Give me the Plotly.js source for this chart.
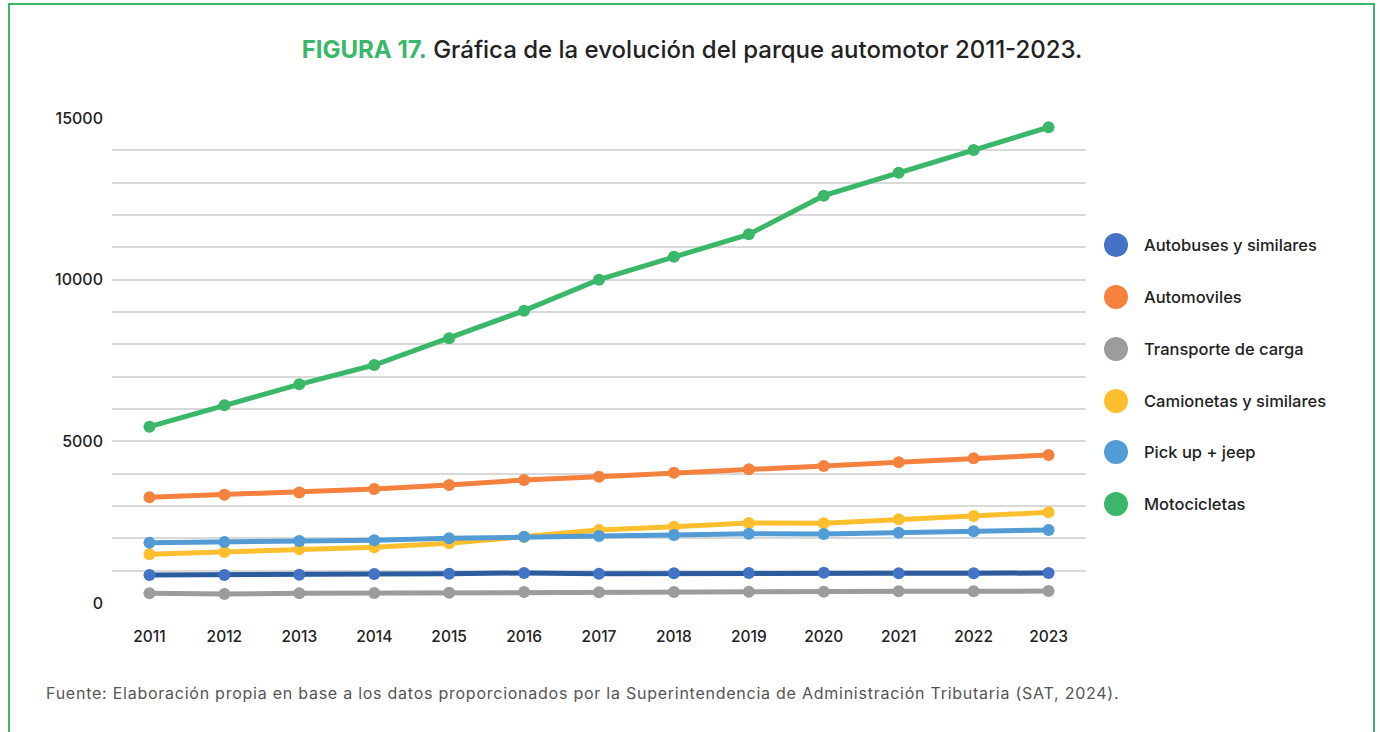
<!DOCTYPE html>
<html>
<head>
<meta charset="utf-8">
<script src="https://cdn.plot.ly/plotly-3.0.1.min.js"></script>
<style>
html,body{margin:0;padding:0;background:#fff;}
#chart{width:1380px;height:732px;}
#chart .annotation.foot text{letter-spacing:0.75px;}
</style>
</head>
<body>
<div id="chart"></div>
<script>
const years = ['2011','2012','2013','2014','2015','2016','2017','2018','2019','2020','2021','2022','2023'];
const seriesNames = ['Autobuses y similares','Automoviles','Transporte de carga','Camionetas y similares','Pick up + jeep','Motocicletas'];
const autobuses   = [866, 866, 876, 897, 907, 928, 907, 918, 928, 938, 918, 918, 928];
const automoviles = [3270, 3350, 3420, 3525, 3650, 3805, 3907, 4030, 4135, 4237, 4350, 4475, 4578];
const transporte  = [299, 278, 299, 309, 320, 340, 330, 340, 350, 350, 360, 360, 371];
const camionetas  = [1505, 1577, 1660, 1722, 1845, 2040, 2258, 2360, 2474, 2464, 2588, 2690, 2804];
const pickup      = [1866, 1887, 1918, 1938, 2000, 2052, 2072, 2103, 2144, 2134, 2175, 2216, 2258];
const motos       = [5453, 6115, 6764, 7361, 8187, 9041, 10000, 10712, 11403, 12598, 13310, 14012, 14714];
const yTickVals = [0, 5000, 10000, 15000];

const seriesValues = [autobuses, automoviles, transporte, camionetas, pickup, motos];
const markerColors = ['#4472C4', '#F4823E', '#9B9C9D', '#FDBF2D', '#529BD5', '#3BB76A'];
const lineColors   = ['#2C5C9E', '#F4823E', '#9B9C9D', '#FDBF2D', '#529BD5', '#3BB76A'];

const FONT = 'Inter, Lato, sans-serif';
const W = 1380, H = 732;
const L = 112, R = 1086, T = 118, B = 603;
const px2x = p => (p - L) / (R - L);
const py2y = p => (B - p) / (B - T);

const traces = seriesNames.map((name, i) => ({
  type: 'scatter',
  mode: 'lines+markers',
  name: name,
  x: years,
  y: seriesValues[i],
  line: {color: lineColors[i], width: 5},
  marker: {color: markerColors[i], size: 12},
  showlegend: false,
  cliponaxis: false
}));

const legendY = [245, 297, 349, 401, 452, 504];
const shapes = [];
const annotations = [];
seriesNames.forEach((name, i) => {
  shapes.push({
    type: 'circle', xref: 'paper', yref: 'paper',
    xsizemode: 'pixel', ysizemode: 'pixel',
    xanchor: px2x(1116), yanchor: py2y(legendY[i]),
    x0: -12, x1: 12, y0: -12, y1: 12,
    fillcolor: markerColors[i], line: {width: 0}
  });
  annotations.push({
    xref: 'paper', yref: 'paper', x: px2x(1142), y: py2y(legendY[i]),
    xanchor: 'left', yanchor: 'middle', align: 'left', showarrow: false,
    text: name, font: {family: FONT, size: 16.5, color: '#222', weight: 500}
  });
});
// border frame
shapes.push({
  type: 'rect', xref: 'paper', yref: 'paper', layer: 'below',
  x0: px2x(9), x1: px2x(1374), y0: py2y(745), y1: py2y(4),
  line: {color: '#3BB76A', width: 2}, fillcolor: 'rgba(0,0,0,0)'
});
annotations.push({
  xref: 'paper', yref: 'paper', x: px2x(44), y: py2y(693),
  xanchor: 'left', yanchor: 'middle', align: 'left', showarrow: false,
  text: 'Fuente: Elaboración propia en base a los datos proporcionados por la Superintendencia de Administración Tributaria (SAT, 2024).',
  font: {family: FONT, size: 16, color: '#555'}
});

const layout = {
  width: W, height: H,
  margin: {l: L, r: W - R, t: T, b: H - B, pad: 0},
  paper_bgcolor: '#fff', plot_bgcolor: '#fff',
  font: {family: FONT, color: '#222'},
  title: {
    text: '<span style="color:#3BB76A"><b>FIGURA 17.</b></span> Gráfica de la evolución del parque automotor 2011-2023.',
    font: {family: FONT, size: 24, color: '#222', weight: 500},
    xref: 'container', yref: 'container',
    x: 692 / W, xanchor: 'center',
    y: 1 - 50 / H, yanchor: 'middle'
  },
  xaxis: {
    type: 'category', range: [-0.5, 12.5],
    showgrid: false, showline: false, zeroline: false, ticks: '',
    tickfont: {family: FONT, size: 15.5, color: '#222', weight: 500},
    ticklabelstandoff: 22, fixedrange: true
  },
  yaxis: {
    range: [0, 15000], tickvals: yTickVals, ticktext: yTickVals.map(String),
    showgrid: true, gridcolor: '#D9D9D9', gridwidth: 2,
    minor: {dtick: 1000, showgrid: true, gridcolor: '#D9D9D9', gridwidth: 2, ticks: ''},
    showline: false, zeroline: false, ticks: '',
    tickfont: {family: FONT, size: 16, color: '#222', weight: 500},
    ticklabelstandoff: 8, fixedrange: true
  },
  shapes: shapes,
  annotations: annotations,
  showlegend: false
};

Plotly.newPlot('chart', traces, layout, {displayModeBar: false, staticPlot: true}).then(gd => {
  const anns = gd.querySelectorAll('.annotation');
  anns[anns.length - 1].classList.add('foot');
});
</script>
</body>
</html>
